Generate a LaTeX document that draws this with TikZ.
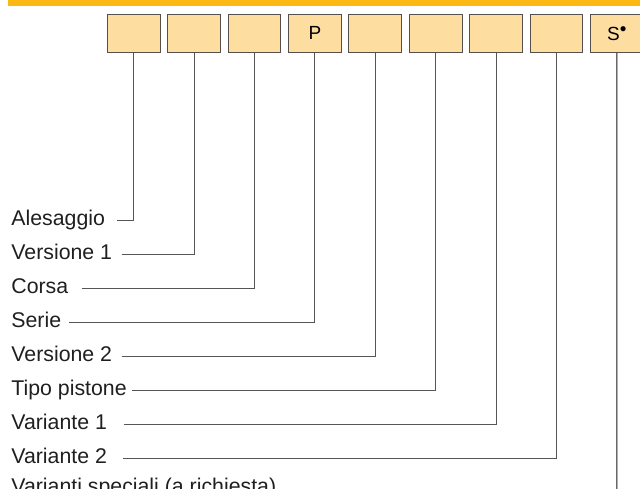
\documentclass[tikz,border=0pt]{standalone}
\usepackage{fontspec}
\setmainfont{Liberation Sans}
\definecolor{bandorange}{RGB}{253,185,19}
\definecolor{boxfill}{RGB}{253,222,160}
\definecolor{boxedge}{RGB}{85,80,75}
\definecolor{linegray}{RGB}{85,85,85}
\tikzset{
  codebox/.style={draw=boxedge, fill=boxfill, line width=0.9pt, minimum width=52.7pt, minimum height=38pt, inner sep=0pt, font=\fontsize{19}{21}\selectfont},
  lbl/.style={anchor=base west, inner sep=0pt, font=\fontsize{21.3}{25}\selectfont, text=black!88},
  conn/.style={draw=linegray, line width=0.9pt},
}
\begin{document}
\begin{tikzpicture}[x=1pt,y=1pt]
\useasboundingbox (0,0) rectangle (640,-488);
\clip (0,0) rectangle (640,-488);
\fill[bandorange] (8,0) rectangle (640,-5.7);
% boxes
\foreach \i/\t in {1/{},2/{},3/{},4/{P},5/{},6/{},7/{},8/{},9/{S\raisebox{5pt}{•}}} {
  \node[codebox] (b\i) at ({133.65+60.4*(\i-1)},-33.3) {\t};
}
% labels
\node[lbl] (l1) at (11.2,-225.6) {Alesaggio};
\node[lbl] (l2) at (11.2,-259.6) {Versione 1};
\node[lbl] (l3) at (11.2,-293.6) {Corsa};
\node[lbl] (l4) at (11.2,-327.6) {Serie};
\node[lbl] (l5) at (11.2,-361.6) {Versione 2};
\node[lbl] (l6) at (11.2,-395.6) {Tipo pistone};
\node[lbl] (l7) at (11.2,-429.6) {Variante 1};
\node[lbl] (l8) at (11.2,-463.6) {Variante 2};
\node[lbl] (l9) at (11.2,-493) {Varianti speciali (a richiesta)};
% line starts
\coordinate (s1) at (117,-220);
\coordinate (s2) at (121.7,-254);
\coordinate (s3) at (81.7,-288);
\coordinate (s4) at (69.3,-322);
\coordinate (s5) at (121.7,-356);
\coordinate (s6) at (132.3,-390);
\coordinate (s7) at (124,-424);
\coordinate (s8) at (122.7,-458);
\coordinate (e9) at (616.85,-495);
% connectors
\foreach \i in {1,...,8} {
  \draw[conn] (s\i) -| (b\i.south);
}
\draw[line width=1pt, black!90] (b9.south) -- (e9);
\end{tikzpicture}
\end{document}
